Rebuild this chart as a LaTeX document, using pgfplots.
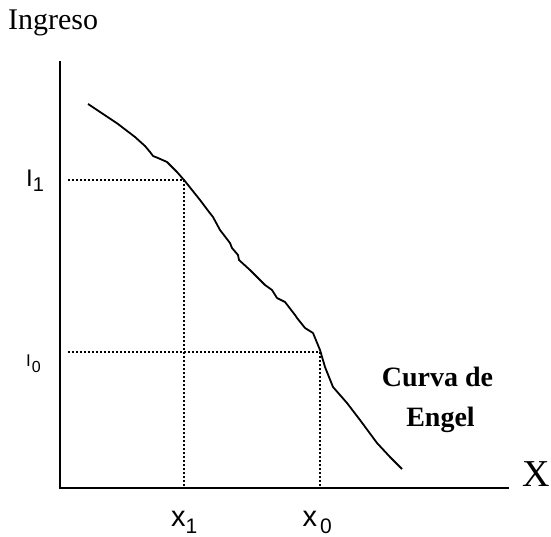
\documentclass[border=0pt]{standalone}
\usepackage{pgfplots}
\pgfplotsset{compat=1.18}
\usepackage{fontspec}
\setmainfont{Liberation Serif}
\newfontfamily\arial{Liberation Sans}
\begin{document}
\begin{tikzpicture}
\begin{axis}[
  scale only axis, width=448pt, height=426pt,
  xmin=0, xmax=448, ymin=0, ymax=426,
  axis lines=left, axis line style={-, line width=2.6pt, line cap=rect},
  xtick=\empty, ytick=\empty,
  clip=false,
]
% Engel curve
\addplot[black, line width=1.8pt, line join=round] coordinates {
(28,384)(40,376)(58,364)(75,351)(85,342)(90,336)(93,332)(98,330)(107,326)
(117,316)(124,308)(132,298)(140,288)(149,276)(153,271)(160,258)(170,245)
(172,240)(178,233)(179,228)(190,218)(205,203)(212,198)(217,190)(225,186)
(235,173)(237,170)(245,160)(253,155)(260,138)(265,121)(273,101)(287,85)
(300,68)(317,45)(330,31)(342,19)};
% dotted guides
\addplot[black, line width=2pt, dash pattern=on 2pt off 2pt] coordinates {(8,308)(124,308)};
\addplot[black, line width=2pt, dash pattern=on 2pt off 2pt] coordinates {(124,308)(124,0)};
\addplot[black, line width=2pt, dash pattern=on 2pt off 2pt] coordinates {(8,136)(260,136)};
\addplot[black, line width=2pt, dash pattern=on 2pt off 2pt] coordinates {(260,136)(260,0)};
% labels
\node[anchor=base west, inner sep=0pt] at (axis cs:-52,458) {\fontsize{30}{30}\selectfont Ingreso};
\node[anchor=base west, inner sep=0pt] at (axis cs:-34,301) {\arial\fontsize{24}{24}\selectfont I\raisebox{-5pt}{\fontsize{20}{20}\selectfont 1}};
\node[anchor=base west, inner sep=0pt] at (axis cs:-34,121) {\arial\fontsize{17}{17}\selectfont I\hspace{1pt}\raisebox{-6pt}{\fontsize{16}{16}\selectfont 0}};
\node[anchor=base west, inner sep=0pt] at (axis cs:111,-39) {\arial\fontsize{29}{29}\selectfont x\raisebox{-7pt}{\fontsize{21}{21}\selectfont 1}};
\node[anchor=base west, inner sep=0pt] at (axis cs:242.5,-39) {\arial\fontsize{29}{29}\selectfont x\hspace{3pt}\raisebox{-7pt}{\fontsize{21}{21}\selectfont 0}};
\node[anchor=base west, inner sep=0pt] at (axis cs:462,1) {\fontsize{38}{38}\selectfont X};
\node[anchor=base, inner sep=0pt] at (axis cs:377.5,101) {\fontsize{28}{28}\selectfont\bfseries Curva de};
\node[anchor=base, inner sep=0pt] at (axis cs:380.5,61) {\fontsize{28}{28}\selectfont\bfseries Engel};
\path (axis cs:-60,-49) rectangle (axis cs:491,488);
\end{axis}
\end{tikzpicture}
\end{document}
